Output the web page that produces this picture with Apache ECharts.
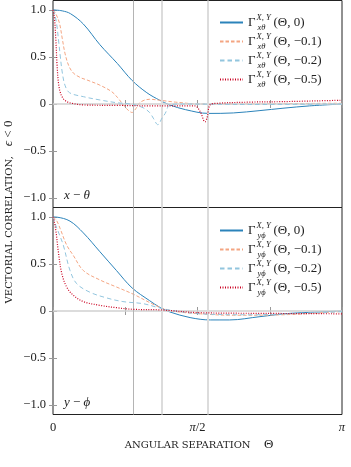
<!DOCTYPE html>
<html lang="en">
<head>
<meta charset="UTF-8">
<title>vectorial correlation</title>
<script src="https://cdn.jsdelivr.net/npm/echarts@6/dist/echarts.min.js"></script>
<style>
html, body { margin: 0; padding: 0; background: #fff; }
#chart { width: 351px; height: 467px; }
</style>
</head>
<body>
<div id="chart"></div>
<script>
// labels of the four curves (epsilon)
var epsLabels = ['0', '−0.1', '−0.2', '−0.5'];
// axis ticks and tick labels
var xTicks = [0, Math.PI / 4, Math.PI / 2, 3 * Math.PI / 4, Math.PI];
var xLabelTicks = [0, Math.PI / 2, Math.PI];
var xLabelText = ['0', '{i|π}/2', '{i|π}'];
var yTicks = [-1, -0.5, 0, 0.5, 1];
var yLabelText = ['−1.0', '−0.5', '0', '0.5', '1.0'];
// gray reference angles
var vLines = [0.866, 1.177, 1.677];

// x - theta panel
var xt0Theta = [0, 0.1, 0.19, 0.33, 0.51, 0.7, 0.86, 1.02, 1.16, 1.27, 1.44, 1.69, 1.96, 2.25, 2.5, 2.79, 3.1416];
var xt0Val = [1.0, 0.99, 0.96, 0.85, 0.63, 0.43, 0.25, 0.12, 0.04, -0.01, -0.06, -0.1, -0.095, -0.07, -0.045, -0.02, 0.0];
var xt1Theta = [0, 0.03, 0.07, 0.1, 0.13, 0.17, 0.22, 0.3, 0.37, 0.51, 0.64, 0.7, 0.75, 0.8, 0.86, 0.9, 0.95, 1.05, 1.16, 1.33, 1.6, 2.0, 2.6, 3.1416];
var xt1Val = [1.0, 0.96, 0.86, 0.7, 0.54, 0.41, 0.33, 0.28, 0.255, 0.2, 0.13, 0.07, 0.01, -0.05, -0.09, -0.05, 0.02, 0.05, 0.04, 0.02, 0.0, 0.0, 0.005, 0.008];
var xt2Theta = [0, 0.02, 0.04, 0.06, 0.08, 0.1, 0.13, 0.18, 0.33, 0.51, 0.69, 0.86, 0.98, 1.05, 1.09, 1.14, 1.185, 1.22, 1.27, 1.38, 2.14, 3.1416];
var xt2Val = [1.0, 0.95, 0.85, 0.68, 0.5, 0.34, 0.2, 0.12, 0.078, 0.043, 0.014, -0.003, -0.04, -0.09, -0.15, -0.22, -0.15, -0.1, -0.01, 0.0, -0.005, 0.0];
var xt3Theta = [0, 0.015, 0.03, 0.045, 0.06, 0.08, 0.11, 0.15, 0.22, 0.33, 0.73, 1.05, 1.54, 1.6, 1.652, 1.674, 1.707, 1.78, 2.14, 2.5, 3.1416];
var xt3Val = [1.0, 0.92, 0.7, 0.4, 0.22, 0.12, 0.06, 0.025, 0.005, -0.01, -0.015, -0.02, -0.02, -0.08, -0.19, -0.15, -0.01, 0.007, 0.02, 0.025, 0.04];

// y - phi panel
var yp0Theta = [0, 0.04, 0.185, 0.33, 0.51, 0.69, 0.86, 1.05, 1.16, 1.27, 1.49, 1.71, 1.92, 2.25, 2.58, 3.1416];
var yp0Val = [1.0, 0.998, 0.955, 0.83, 0.63, 0.43, 0.245, 0.11, 0.04, -0.01, -0.07, -0.095, -0.095, -0.06, -0.025, 0.0];
var yp1Theta = [0, 0.04, 0.076, 0.149, 0.221, 0.33, 0.51, 0.69, 0.87, 1.05, 1.16, 1.27, 1.6, 1.96, 2.5, 3.1416];
var yp1Val = [1.0, 0.96, 0.88, 0.7, 0.59, 0.43, 0.33, 0.255, 0.18, 0.09, 0.04, 0.003, -0.03, -0.045, -0.04, -0.005];
var yp2Theta = [0, 0.022, 0.058, 0.112, 0.185, 0.258, 0.4, 0.58, 0.76, 0.98, 1.13, 1.27, 1.6, 2.14, 2.69, 3.1416];
var yp2Val = [1.0, 0.93, 0.84, 0.7, 0.43, 0.29, 0.2, 0.14, 0.1, 0.078, 0.04, 0.01, -0.03, -0.04, -0.025, -0.007];
var yp3Theta = [0, 0.01, 0.033, 0.058, 0.095, 0.149, 0.221, 0.33, 0.51, 0.69, 0.87, 1.16, 1.6, 2.3, 3.1416];
var yp3Val = [1.0, 0.97, 0.84, 0.63, 0.4, 0.255, 0.167, 0.1, 0.06, 0.035, 0.018, 0.012, -0.018, -0.025, -0.03];

var colors = ['#2b83ba', '#f4a582', '#92c5de', '#ca0020'];
var dashes = ['solid', [3.5, 2], [4.5, 3], [1, 1.5]];
var serif = 'Liberation Serif';

function zip(t, v) {
  var out = [];
  for (var i = 0; i < t.length; i++) out.push([t[i], v[i]]);
  return out;
}
function pick(list, texts, v) {
  for (var i = 0; i < list.length; i++) {
    if (Math.abs(list[i] - v) < 1e-6) return texts[i];
  }
  return '';
}

var panels = [
  { key: 'xt', sub: 'xθ', data: [zip(xt0Theta, xt0Val), zip(xt1Theta, xt1Val), zip(xt2Theta, xt2Val), zip(xt3Theta, xt3Val)] },
  { key: 'yp', sub: 'yϕ', data: [zip(yp0Theta, yp0Val), zip(yp1Theta, yp1Val), zip(yp2Theta, yp2Val), zip(yp3Theta, yp3Val)] }
];

var grids = [], xAxes = [], yAxes = [], series = [], legends = [];
panels.forEach(function (p, g) {
  grids.push({ left: 53, top: 0.5 + g * 207, width: 289, height: 207, show: true,
    borderColor: '#222', borderWidth: 1, backgroundColor: 'transparent' });
  // bottom + top x axes
  ['bottom', 'top'].forEach(function (pos) {
    xAxes.push({
      type: 'value', gridIndex: g, position: pos, min: 0, max: Math.PI,
      axisLine: { show: false }, splitLine: { show: false },
      axisTick: { inside: true, length: 4, customValues: xTicks, lineStyle: { color: '#999' } },
      axisLabel: {
        show: g == 1 && pos == 'bottom', customValues: xLabelTicks, margin: 7,
        fontFamily: serif, fontSize: 12.5, color: '#222',
        formatter: function (v) { return pick(xLabelTicks, xLabelText, v); },
        rich: { i: { fontFamily: serif, fontStyle: 'italic', fontSize: 12.5, color: '#222' } }
      }
    });
  });
  ['left', 'right'].forEach(function (pos) {
    yAxes.push({
      type: 'value', gridIndex: g, position: pos, min: -1.1, max: 1.1,
      axisLine: { show: false }, splitLine: { show: false },
      axisTick: { inside: true, length: 4, customValues: yTicks, lineStyle: { color: '#999' } },
      axisLabel: {
        show: pos == 'left', customValues: yTicks, margin: 7,
        fontFamily: serif, fontSize: 12.5, color: '#222',
        formatter: function (v) { return pick(yTicks, yLabelText, v); }
      }
    });
  });
  // reference lines
  series.push({
    type: 'line', name: 'ref' + g, xAxisIndex: g * 2, yAxisIndex: g * 2, data: [], silent: true, z: 1,
    markLine: {
      symbol: ['none', 'none'], silent: true, animation: false, label: { show: false },
      data: [
        { yAxis: 0, lineStyle: { color: '#d0d0d0', width: 1.5, type: 'solid' } },
        { xAxis: vLines[0], lineStyle: { color: '#b4b4b4', width: 1, type: 'solid' } },
        { xAxis: vLines[1], lineStyle: { color: '#dcdcdc', width: 2, type: 'solid' } },
        { xAxis: vLines[2], lineStyle: { color: '#dcdcdc', width: 2, type: 'solid' } }
      ]
    }
  });
  var names = [];
  p.data.forEach(function (d, k) {
    var name = p.key + k;
    names.push(name);
    series.push({
      type: 'line', name: name, xAxisIndex: g * 2, yAxisIndex: g * 2, data: d,
      symbol: 'none', smooth: 0.35, z: 3 + k, animation: false,
      color: colors[k],
      lineStyle: { color: colors[k], width: k == 3 ? 1.2 : 1, type: dashes[k] }
    });
  });
  legends.push({
    data: names, orient: 'vertical', left: 214, top: 8 + g * 208,
    itemWidth: 23, itemHeight: 10, itemGap: 0, selectedMode: false,
    itemStyle: { opacity: 0 },
    formatter: function (n) {
      var k = +n.slice(2);
      return '{g|Γ}{sp|X, Y}{sb|' + p.sub + '}{p|(Θ, ' + epsLabels[k] + ')}';
    },
    textStyle: {
      color: '#222', lineHeight: 19,
      rich: {
        g: { fontFamily: serif, fontSize: 13, color: '#222', lineHeight: 19 },
        sp: { fontFamily: serif, fontStyle: 'italic', fontSize: 8.5, color: '#222', lineHeight: 11, verticalAlign: 'top', width: 0, padding: [0, 0, 0, 1] },
        sb: { fontFamily: serif, fontStyle: 'italic', fontSize: 8.5, color: '#222', lineHeight: 10, verticalAlign: 'bottom', width: 16, padding: [0, 0, 0, 1] },
        p: { fontFamily: serif, fontSize: 13, color: '#222', lineHeight: 19 }
      }
    }
  });
});

var chart = echarts.init(document.getElementById('chart'));
chart.setOption({
  animation: false,
  grid: grids,
  xAxis: xAxes,
  yAxis: yAxes,
  legend: legends,
  series: series,
  graphic: [
    { type: 'text', left: 64, top: 189, z: 10, style: {
      text: '{i|x} − {i|θ}', fill: '#222', font: '13px ' + serif,
      rich: { i: { fontFamily: serif, fontStyle: 'italic', fontSize: 13, fill: '#222' } } } },
    { type: 'text', left: 64, top: 396, z: 10, style: {
      text: '{i|y} − {i|ϕ}', fill: '#222', font: '13px ' + serif,
      rich: { i: { fontFamily: serif, fontStyle: 'italic', fontSize: 13, fill: '#222' } } } },
    { type: 'text', x: 199, y: 445, z: 10, style: {
      text: '{s|ANGULAR SEPARATION}    {m|Θ}', fill: '#222', align: 'center', verticalAlign: 'middle',
      rich: { s: { fontFamily: 'DejaVu Serif', fontSize: 10, fill: '#222' },
              m: { fontFamily: serif, fontSize: 13, fill: '#222' } } } },
    { type: 'text', x: 9, y: 212, rotation: Math.PI / 2, z: 10, style: {
      text: '{s|VECTORIAL CORRELATION,}   {m|ϵ}{n| < 0}', fill: '#222', align: 'center', verticalAlign: 'middle',
      rich: { s: { fontFamily: 'DejaVu Serif', fontSize: 10, fill: '#222' },
              m: { fontFamily: serif, fontStyle: 'italic', fontSize: 13, fill: '#222' },
              n: { fontFamily: serif, fontSize: 13, fill: '#222' } } } }
  ]
});
</script>
</body>
</html>
